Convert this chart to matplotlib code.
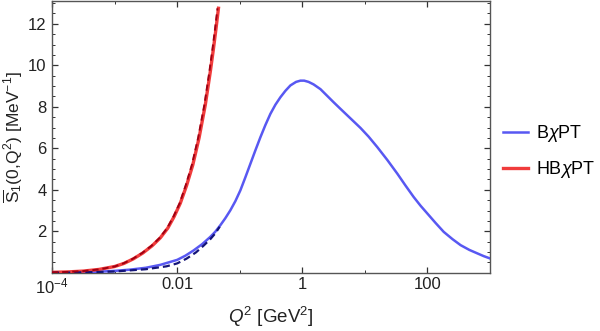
import numpy as np
import matplotlib
matplotlib.use("Agg")
import matplotlib.pyplot as plt
from matplotlib.ticker import FixedLocator, FixedFormatter, MultipleLocator

plt.rcParams['font.family'] = ['Liberation Sans', 'DejaVu Sans']
plt.rcParams['mathtext.fontset'] = 'custom'
plt.rcParams['mathtext.rm'] = 'Liberation Sans'
plt.rcParams['mathtext.it'] = 'Liberation Sans:style=italic'
plt.rcParams['mathtext.bf'] = 'Liberation Sans:weight=bold'

# log10 of Q^2 [GeV^2] and S1bar(0,Q^2) [MeV^-1]
bchpt_logq2 = [-4.0, -3.75, -3.5, -3.25, -3.0, -2.75, -2.5, -2.27, -2.0, -1.87,
               -1.74, -1.6, -1.47, -1.39, -1.31, -1.23, -1.15, -1.07, -0.99, -0.91,
               -0.83, -0.75, -0.67, -0.59, -0.51, -0.43, -0.35, -0.27, -0.19, -0.1,
               -0.03, 0.03, 0.1, 0.18, 0.29, 0.4, 0.5, 0.61, 0.77, 0.93,
               1.06, 1.2, 1.36, 1.52, 1.65, 1.78, 1.89, 2.0, 2.13, 2.26,
               2.4, 2.53, 2.67, 2.8, 2.9, 3.0]
bchpt_s1 = [0.01, 0.02, 0.03, 0.05, 0.09, 0.15, 0.24, 0.38, 0.62, 0.82,
            1.07, 1.38, 1.73, 1.98, 2.29, 2.63, 3.01, 3.45, 3.97, 4.6,
            5.25, 5.9, 6.53, 7.12, 7.66, 8.1, 8.46, 8.77, 9.03, 9.2,
            9.26, 9.26, 9.2, 9.08, 8.85, 8.52, 8.22, 7.9, 7.44, 6.98,
            6.56, 6.05, 5.43, 4.77, 4.2, 3.65, 3.23, 2.85, 2.4, 1.97,
            1.62, 1.33, 1.1, 0.93, 0.8, 0.69]

bchpt_lo_logq2 = [-4.0, -3.5, -3.0, -2.5, -2.17, -2.0, -1.85, -1.7, -1.58, -1.47,
                  -1.39, -1.32]
bchpt_lo_s1 = [0.0, 0.02, 0.06, 0.17, 0.31, 0.45, 0.68, 0.98, 1.3, 1.62,
               1.9, 2.22]

hbchpt_logq2 = [-4.0, -3.75, -3.5, -3.25, -3.0, -2.85, -2.7, -2.55, -2.4, -2.27,
                -2.15, -2.05, -1.95, -1.85, -1.75, -1.65, -1.55, -1.47, -1.42, -1.38,
                -1.34]
hbchpt_s1 = [0.02, 0.04, 0.08, 0.16, 0.3, 0.45, 0.67, 0.95, 1.3, 1.68,
             2.15, 2.7, 3.35, 4.2, 5.2, 6.5, 8.1, 9.7, 10.8, 11.75,
             12.75]

hbchpt_lo_logq2 = [-4.0, -3.75, -3.5, -3.25, -3.0, -2.86, -2.71, -2.56, -2.41, -2.28,
                   -2.16, -2.06, -1.96, -1.865, -1.765, -1.665, -1.565, -1.485, -1.435, -1.395,
                   -1.355]
hbchpt_lo_s1 = [0.02, 0.04, 0.08, 0.16, 0.3, 0.45, 0.67, 0.95, 1.3, 1.68,
                2.15, 2.7, 3.35, 4.2, 5.2, 6.5, 8.1, 9.7, 10.8, 11.75,
                12.75]

x_major = [1e-4, 1e-2, 1, 100]
x_major_labels = ['$10^{-4}$', '0.01', '1', '100']
x_minor = [1e-3, 1e-1, 10, 1000]
y_major = [2, 4, 6, 8, 10, 12]

blue = '#5858f2'
red = '#f03c3c'
navy = '#141478'
darkred = '#a00012'

fig = plt.figure(figsize=(6.0, 3.31), dpi=100)
ax = fig.add_axes([0.0867, 0.176, 0.730, 0.821])

q = lambda a: 10.0 ** np.asarray(a)

ax.plot(q(bchpt_logq2), bchpt_s1, color=blue, lw=1.8, label=r'B$\chi$PT', zorder=3)
ax.plot(q(hbchpt_logq2), hbchpt_s1, color=red, lw=2.4, label=r'HB$\chi$PT', zorder=3)
ax.plot(q(bchpt_lo_logq2), bchpt_lo_s1, color=navy, lw=1.6, ls=(0, (3.2, 1.8)), zorder=4)
ax.plot(q(hbchpt_lo_logq2), hbchpt_lo_s1, color=darkred, lw=1.4, ls=(0, (3.2, 2.0)), zorder=4)

ax.set_xscale('log')
ax.set_xlim(1e-4, 1000)
ax.set_ylim(0, 13.1)

ax.xaxis.set_major_locator(FixedLocator(x_major))
ax.xaxis.set_major_formatter(FixedFormatter(x_major_labels))
ax.xaxis.set_minor_locator(FixedLocator(x_minor))
ax.xaxis.set_minor_formatter(FixedFormatter([''] * len(x_minor)))
ax.yaxis.set_major_locator(FixedLocator(y_major))
ax.yaxis.set_minor_locator(MultipleLocator(0.5))

ax.tick_params(which='both', direction='in', top=True, right=True,
               colors='#333333', labelcolor='#222222', labelsize=12)
ax.tick_params(which='major', length=4.5, width=0.9)
ax.tick_params(which='minor', length=2.5, width=0.7)
ax.tick_params(axis='x', which='major', pad=3)
ax.tick_params(axis='y', which='major', pad=4)
for s in ax.spines.values():
    s.set_color('#555555')
    s.set_linewidth(1.0)

ax.set_xlabel(r'$Q^2$ [GeV$^2$]', fontsize=13.5, color='#222222', labelpad=6)
ax.set_ylabel(r'$\overline{\mathrm{S}}_1(0,\!\mathrm{Q}^2)$ [MeV$^{-1}$]',
              fontsize=12.5, color='#222222', labelpad=2)

fig.legend(loc='upper left', bbox_to_anchor=(0.811, 0.676), frameon=False,
           fontsize=13, handlelength=1.4, handletextpad=0.45, labelspacing=0.8)

fig.savefig('out.png', dpi=100)
